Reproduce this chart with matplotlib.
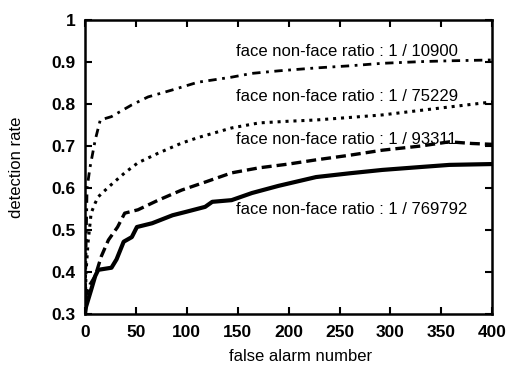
import matplotlib.pyplot as plt

plt.rcParams['font.family'] = ['Liberation Sans', 'DejaVu Sans']

# false alarm number / detection rate
x_10900 = [0, 1, 2, 5, 10, 15, 26, 46, 62, 85, 111, 144, 164, 190, 227, 260, 292, 330, 358, 380, 400]
y_10900 = [0.30, 0.45, 0.60, 0.65, 0.714, 0.762, 0.77, 0.798, 0.817, 0.833, 0.852, 0.864, 0.873, 0.879,
           0.886, 0.891, 0.897, 0.901, 0.903, 0.904, 0.905]

x_75229 = [0, 1, 3, 6, 10, 13, 23, 39, 52, 72, 95, 111, 144, 171, 200, 227, 260, 292, 330, 358, 400]
y_75229 = [0.30, 0.40, 0.47, 0.54, 0.564, 0.579, 0.602, 0.636, 0.66, 0.683, 0.707, 0.72, 0.743, 0.755,
           0.759, 0.762, 0.768, 0.774, 0.785, 0.793, 0.805]

x_93311 = [0, 1, 5, 10, 16, 23, 32, 39, 52, 72, 95, 118, 144, 171, 200, 227, 260, 292, 330, 358, 380, 400]
y_93311 = [0.30, 0.345, 0.37, 0.39, 0.437, 0.476, 0.507, 0.54, 0.548, 0.571, 0.595, 0.614, 0.636, 0.648,
           0.657, 0.667, 0.678, 0.69, 0.70, 0.71, 0.706, 0.704]

x_769792 = [0, 1, 6, 10, 13, 26, 31, 38, 46, 51, 66, 86, 99, 118, 125, 144, 164, 190, 227, 260, 292, 330, 358, 400]
y_769792 = [0.30, 0.317, 0.357, 0.39, 0.405, 0.41, 0.43, 0.472, 0.483, 0.507, 0.516, 0.535, 0.543, 0.555,
            0.567, 0.571, 0.588, 0.605, 0.626, 0.635, 0.643, 0.65, 0.655, 0.657]

labels = ['face non-face ratio : 1 / 10900', 'face non-face ratio : 1 / 75229',
          'face non-face ratio : 1 / 93311', 'face non-face ratio : 1 / 769792']
label_y = [0.926, 0.818, 0.716, 0.548]

fig = plt.figure(figsize=(5.09, 3.65), dpi=100)
ax = fig.add_axes([0.167, 0.140, 0.800, 0.805])

ax.plot(x_10900, y_10900, color='black', lw=2.0, dashes=(3, 2, 1, 2))
ax.plot(x_75229, y_75229, color='black', lw=2.2, dashes=(1, 1.6))
ax.plot(x_93311, y_93311, color='black', lw=2.4, dashes=(3, 1.5))
ax.plot(x_769792, y_769792, color='black', lw=3.0)

for lab, ly in zip(labels, label_y):
    ax.text(148, ly, lab, fontsize=12, va='center', ha='left')

ax.set_xlim(0, 400)
ax.set_ylim(0.3, 1.0)
ax.set_xticks(range(0, 401, 50))
ax.set_yticks([0.3, 0.4, 0.5, 0.6, 0.7, 0.8, 0.9, 1.0])
ax.set_yticklabels(['0.3', '0.4', '0.5', '0.6', '0.7', '0.8', '0.9', '1'])
ax.tick_params(direction='in', length=5, width=1.5, top=True, right=True, labelsize=12.5)
ax.tick_params(axis='x', pad=8)
ax.tick_params(axis='y', pad=7)
for t in ax.get_xticklabels() + ax.get_yticklabels():
    t.set_fontweight('bold')
for s in ax.spines.values():
    s.set_linewidth(1.8)

ax.set_xlabel('false alarm number', fontsize=12)
ax.set_ylabel('detection rate', fontsize=12)
ax.xaxis.set_label_coords(0.53, -0.12)
ax.yaxis.set_label_coords(-0.15, 0.5)

fig.savefig('out.png', dpi=100)
